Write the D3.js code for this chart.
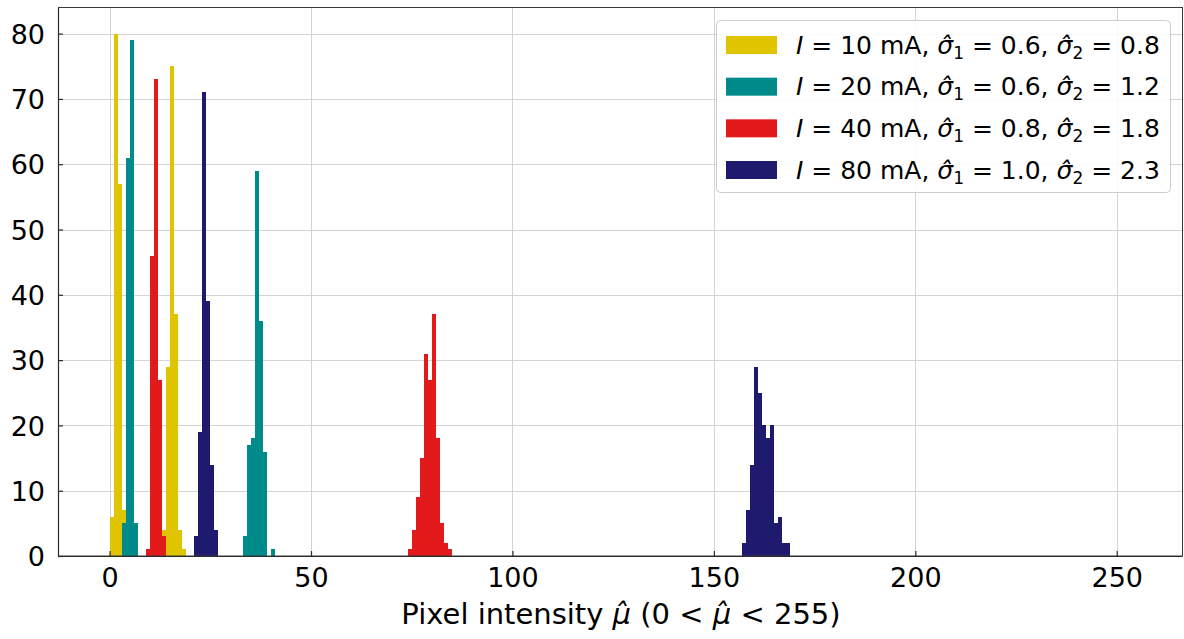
<!DOCTYPE html>
<html>
<head>
<meta charset="utf-8">
<script src="https://cdn.jsdelivr.net/npm/d3@7"></script>
<style>
  html, body { margin: 0; padding: 0; background: #fff; }
  svg { display: block; font-family: "DejaVu Sans", sans-serif; }
</style>
</head>
<body>
<svg id="chart" width="1184" height="639"></svg>
<script>
// Histogram bins (left edge of each unit-wide bin) and counts per beam current
const binWidth = 1;

const yellowBins   = [0, 1, 2, 3, 13, 14, 15, 16, 17, 18];
const yellowCounts = [6, 80, 57, 7, 4, 29, 75, 37, 4, 1];

const tealBins   = [3, 4, 5, 6, 33, 34, 35, 36, 37, 38, 40];
const tealCounts = [5, 61, 79, 5, 3, 17, 18, 59, 36, 16, 1];

const redBins   = [9, 10, 11, 12, 13, 74, 75, 76, 77, 78, 79, 80, 81, 82, 83, 84];
const redCounts = [1, 46, 73, 27, 3, 1, 4, 9, 15, 31, 27, 37, 18, 5, 2, 1];

const navyBins   = [21, 22, 23, 24, 25, 26, 157, 158, 159, 160, 161, 162, 163, 164, 165, 166, 167, 168];
const navyCounts = [3, 19, 71, 39, 14, 4, 2, 7, 14, 29, 25, 20, 18, 20, 5, 6, 2, 2];

const currents = ["10", "20", "40", "80"];
const sigma1   = ["0.6", "0.6", "0.8", "1.0"];
const sigma2   = ["0.8", "1.2", "1.8", "2.3"];
const colors   = ["#e0c400", "#008b8b", "#e31a1c", "#1e1b6e"];

const xTicks = [0, 50, 100, 150, 200, 250];
const yTicks = [0, 10, 20, 30, 40, 50, 60, 70, 80];

const series = [
  { bins: yellowBins, counts: yellowCounts },
  { bins: tealBins,   counts: tealCounts },
  { bins: redBins,    counts: redCounts },
  { bins: navyBins,   counts: navyCounts }
].map((s, i) => ({
  color: colors[i],
  current: currents[i], s1: sigma1[i], s2: sigma2[i],
  bars: s.bins.map((b, j) => ({ x0: b, x1: b + binWidth, n: s.counts[j] }))
}));

const svg = d3.select("#chart");
const plot = { left: 58, right: 1182, top: 7.5, bottom: 556 };

const x = d3.scaleLinear().domain([-12.8, 266.2]).range([plot.left, plot.right]);
const y = d3.scaleLinear().domain([0, 84]).range([plot.bottom, plot.top]);

// grid
const grid = svg.append("g").attr("stroke", "#d4d4d4").attr("stroke-width", 1);
grid.selectAll("line.gx").data(xTicks).join("line")
  .attr("x1", d => Math.round(x(d)) + 0.5).attr("x2", d => Math.round(x(d)) + 0.5)
  .attr("y1", plot.top).attr("y2", plot.bottom);
grid.selectAll("line.gy").data(yTicks.filter(d => d > 0)).join("line")
  .attr("x1", plot.left).attr("x2", plot.right)
  .attr("y1", d => Math.round(y(d)) + 0.5).attr("y2", d => Math.round(y(d)) + 0.5);

// bars
series.forEach(s => {
  svg.append("g").attr("fill", s.color)
    .selectAll("rect").data(s.bars).join("rect")
    .attr("x", d => x(d.x0))
    .attr("width", d => x(d.x1) - x(d.x0))
    .attr("y", d => y(d.n))
    .attr("height", d => y(0) - y(d.n))
    .attr("shape-rendering", "crispEdges");
});

// frame
svg.append("rect")
  .attr("x", plot.left + 0.5).attr("y", plot.top)
  .attr("width", plot.right - plot.left).attr("height", plot.bottom - plot.top)
  .attr("fill", "none").attr("stroke", "#3a3a3a").attr("stroke-width", 1);

// axes with inward ticks
const fontTick = 27;
const xAxis = d3.axisBottom(x).tickValues(xTicks).tickSizeInner(-5).tickSizeOuter(0).tickPadding(12);
const gx = svg.append("g").attr("transform", `translate(0,${plot.bottom})`).call(xAxis);
const yAxis = d3.axisLeft(y).tickValues(yTicks).tickSizeInner(-5).tickSizeOuter(0).tickPadding(13);
const gy = svg.append("g").attr("transform", `translate(${plot.left},0)`).call(yAxis);
[gx, gy].forEach(g => {
  g.select(".domain").attr("stroke", "#2b2b2b").attr("stroke-width", 1.2);
  g.selectAll(".tick line").attr("stroke", "#2b2b2b").attr("stroke-width", 1.2);
  g.selectAll(".tick text").attr("fill", "#000")
    .style("font-family", "DejaVu Sans").style("font-size", fontTick + "px");
});
gx.selectAll(".tick text").attr("dy", "0.71em");
gy.selectAll(".tick text").attr("dy", "0.36em");

// x-axis label
const xl = svg.append("text")
  .attr("x", (plot.left + plot.right) / 2 + 1).attr("y", 624)
  .attr("text-anchor", "middle").style("font-size", "29px").attr("fill", "#000");
xl.append("tspan").text("Pixel intensity ");
xl.append("tspan").attr("font-style", "italic").text("\u03BC\u0302");
xl.append("tspan").text(" (0 < ");
xl.append("tspan").attr("font-style", "italic").text("\u03BC\u0302");
xl.append("tspan").text(" < 255)");

// legend
const lg = svg.append("g");
lg.append("rect")
  .attr("x", 716.5).attr("y", 20.5).attr("width", 454).attr("height", 172)
  .attr("rx", 4).attr("fill", "#fff").attr("fill-opacity", 0.85)
  .attr("stroke", "#cccccc").attr("stroke-width", 1);

const rowY = d3.scaleLinear().domain([0, 3]).range([45, 170]);
const legendFont = 25;
series.forEach((s, i) => {
  const cy = rowY(i);
  lg.append("rect").attr("x", 726).attr("y", cy - 9).attr("width", 51).attr("height", 18).attr("fill", s.color);
  const t = lg.append("text").attr("x", 796).attr("y", cy + 8.5)
    .style("font-size", legendFont + "px").attr("fill", "#000");
  t.append("tspan").attr("font-style", "italic").text("I");
  t.append("tspan").text(" = " + s.current + " mA, ");
  t.append("tspan").attr("font-style", "italic").text("\u03C3\u0302");
  t.append("tspan").attr("font-size", "17px").attr("dy", 5).text("1");
  t.append("tspan").attr("dy", -5).text(" = " + s.s1 + ", ");
  t.append("tspan").attr("font-style", "italic").text("\u03C3\u0302");
  t.append("tspan").attr("font-size", "17px").attr("dy", 5).text("2");
  t.append("tspan").attr("dy", -5).text(" = " + s.s2);
});
</script>
</body>
</html>
